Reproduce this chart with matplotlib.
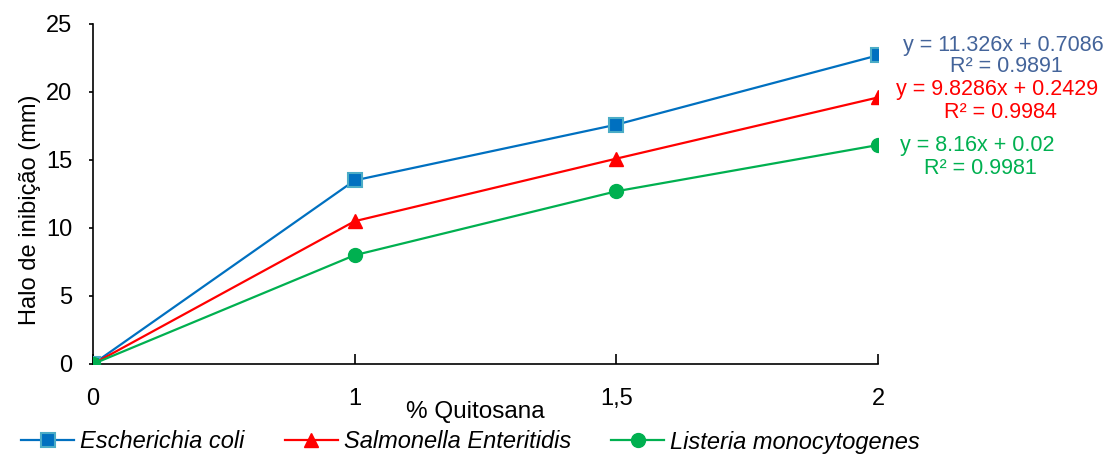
import matplotlib
matplotlib.use("Agg")
import matplotlib.pyplot as plt

plt.rcParams["font.family"] = ["Liberation Sans", "DejaVu Sans"]

categories = ["0", "1", "1,5", "2"]
ecoli = [0, 13.5, 17.6, 22.7]
salmonella = [0, 10.5, 15.1, 19.6]
listeria = [0, 8.0, 12.7, 16.1]

series_names = ["Escherichia coli", "Salmonella Enteritidis", "Listeria monocytogenes"]
eq_lines = [
    ("y = 11.326x + 0.7086", "R² = 0.9891"),
    ("y = 9.8286x + 0.2429", "R² = 0.9984"),
    ("y = 8.16x + 0.02", "R² = 0.9981"),
]

fig = plt.figure(figsize=(11.05, 4.54), dpi=100)
ax = fig.add_axes([93 / 1105, 1 - 364 / 454, (878 - 93) / 1105, (364 - 24) / 454])

x = list(range(len(categories)))
ax.plot(x, ecoli, color="#0070C0", lw=1.6, marker="s", ms=9.5,
        mfc="#0070C0", mec="#4BACC6", mew=1.5, label=series_names[0], zorder=3)
ax.plot(x, salmonella, color="#FF0000", lw=1.6, marker="^", ms=10.5,
        mfc="#FF0000", mec="#FF0000", label=series_names[1], zorder=3)
ax.plot(x, listeria, color="#00B050", lw=1.6, marker="o", ms=10,
        mfc="#00B050", mec="#00B050", label=series_names[2], zorder=4)

ax.set_xlim(0, 3)
ax.set_ylim(0, 25)
ax.set_yticks(range(0, 26, 5))
ax.set_xticks(x)
ax.set_xticklabels(categories)
ax.tick_params(axis="x", direction="in", length=7, width=1.2, labelsize=17, pad=17)
ax.tick_params(axis="y", direction="out", length=3, width=1.2, labelsize=17, pad=12)
for s in ["top", "right"]:
    ax.spines[s].set_visible(False)
for s in ["left", "bottom"]:
    ax.spines[s].set_linewidth(1.2)
ax.spines["bottom"].set_zorder(1)

ax.set_ylabel("Halo de inibição (mm)", fontsize=17, va="center")
ax.yaxis.set_label_coords((30 - 93) / 785, (364 - 210) / 340)
ax.set_xlabel("% Quitosana", fontsize=17.5, va="center")
ax.xaxis.set_label_coords((475 - 93) / 785, (364 - 412) / 340)

eq_colors = ["#44649A", "#FF0000", "#00B050"]
eq_pos = [(1003, 46, 67), (997, 90, 112), (977, 146, 168)]
for (l1, l2), c, (cx, y1, y2) in zip(eq_lines, eq_colors, eq_pos):
    fig.text(cx / 1105, 1 - y1 / 454, l1, color=c, fontsize=15.5, ha="center", va="center")
    fig.text((cx + 3) / 1105, 1 - y2 / 454, l2, color=c, fontsize=15.5, ha="center", va="center")

leg = fig.legend(loc="center left", bbox_to_anchor=(21 / 1105, 1 - 442 / 454), ncol=3,
                 frameon=False, prop={"style": "italic", "size": 17}, handlelength=2.25,
                 columnspacing=1.7, handletextpad=0.25, borderaxespad=0, borderpad=0)

fig.savefig("out.png", dpi=100)
